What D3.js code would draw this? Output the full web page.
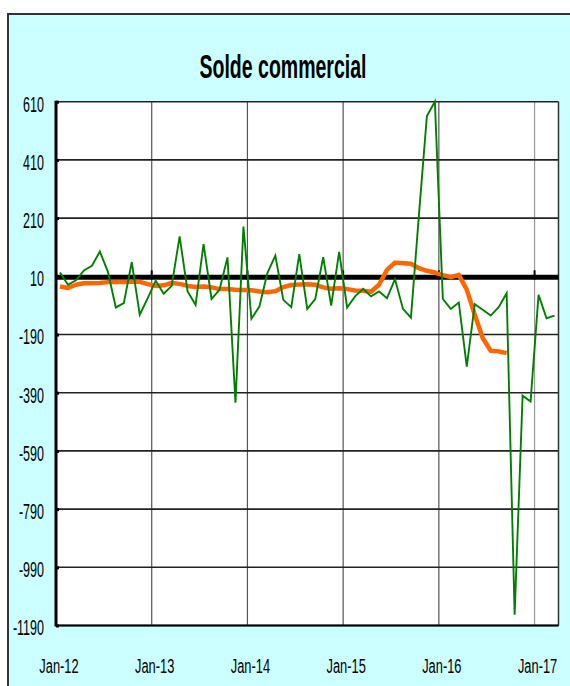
<!DOCTYPE html>
<html>
<head>
<meta charset="utf-8">
<script src="https://cdn.jsdelivr.net/npm/d3@7"></script>
<style>
body{margin:0;background:#fff}
svg{display:block}
</style>
</head>
<body>
<div id="chart"></div>
<script>
var months = d3.timeMonth.range(new Date(2012,0,1), new Date(2017,3,1)).map(d3.timeFormat('%b-%y'))
var tickLabels = ['Jan-12','Jan-13','Jan-14','Jan-15','Jan-16','Jan-17']
var yTicks = [610,410,210,10,-190,-390,-590,-790,-990,-1190]
// monthly balance (green)
var solde = [23,-19,-4,30,46,95,26,-97,-82,59,-122,-65,
             -5,-50,-23,147,-42,-88,121,-68,-36,75,-424,181,
             -136,-94,21,81,-71,-96,86,-102,-68,76,-91,94,
             -97,-59,-33,-59,-42,-65,0,-102,-132,220,561,610,
             -68,-102,-80,-300,-86,-105,-125,-96,-48,-1153,-400,-420,
             -54,-134,-125]
// moving average (orange)
var moyenne = [-25,-30,-19,-14,-14,-13,-10,-10,-10,-9,-9,-17,
               -23,-21,-13,-16,-23,-27,-25,-28,-34,-34,-36,-37,
               -38,-42,-45,-41,-27,-20,-18,-17,-19,-28,-33,-31,
               -34,-39,-40,-43,-19,32,57,55,53,38,29,23,
               14,7,15,-36,-122,-202,-246,-248,-254]

var W = 570, H = 686
var pL = 56, pR = 558.5, pT = 101.7, pB = 625.5

var svg = d3.select('#chart').append('svg')
            .attr('width', W)
            .attr('height', H)

var x = d3.scaleBand().domain(months).range([pL,pR]).padding(0)
var y = d3.scaleLinear().domain([-1190,610]).range([pB,pT])
var cx = m => x(m) + x.bandwidth()/2

// frame
svg.append('rect')
   .attr('x',8).attr('y',14).attr('width',W).attr('height',H)
   .attr('fill','#ccffff').attr('stroke','#333').attr('stroke-width',2)

svg.append('text')
   .attr('x',283).attr('y',78)
   .attr('text-anchor','middle')
   .attr('textLength',167).attr('lengthAdjust','spacingAndGlyphs')
   .style('font-family','"Liberation Sans",Arial,sans-serif')
   .style('font-weight','bold').style('font-size','34px')
   .text('Solde commercial')

// plot area
svg.append('rect')
   .attr('x',pL).attr('y',pT).attr('width',pR-pL).attr('height',pB-pT)
   .attr('fill','#fff')

// vertical grid
tickLabels.slice(1).forEach(t=>{
	svg.append('line')
	   .attr('x1',x(t)).attr('x2',x(t)).attr('y1',pT).attr('y2',pB)
	   .attr('stroke', t==='Jan-17' ? '#9a9a9a' : '#555').attr('stroke-width',1.2)
})

// horizontal grid
yTicks.forEach(v=>{
	svg.append('line')
	   .attr('x1',pL).attr('x2',pR).attr('y1',y(v)).attr('y2',y(v))
	   .attr('stroke','#222').attr('stroke-width',1.6)
})

// borders
svg.append('line').attr('x1',pR).attr('x2',pR).attr('y1',pT).attr('y2',pB)
   .attr('stroke','#333').attr('stroke-width',1.5)
svg.append('line').attr('x1',pL).attr('x2',pR).attr('y1',pB).attr('y2',pB)
   .attr('stroke','#000').attr('stroke-width',2)

// y axis
var yAxis = svg.append('g').attr('transform','translate('+pL+',0)')
               .call(d3.axisLeft(y).tickValues(yTicks).tickSize(-3).tickFormat(d=>String(d)))
yAxis.select('.domain').remove()
yAxis.selectAll('.tick line').attr('stroke','#000').attr('stroke-width',3)
yAxis.selectAll('.tick text')
     .attr('x',null).attr('dy',null).attr('text-anchor','end')
     .attr('transform','translate(-12,9.3) scale(0.57,1)')
     .style('font-family','"Liberation Sans",Arial,sans-serif')
     .style('font-size','22px').attr('fill','#000')
svg.append('line').attr('x1',pL).attr('x2',pL).attr('y1',pT-1).attr('y2',pB+1)
   .attr('stroke','#000').attr('stroke-width',3)

// x axis labels
var xAxis = svg.append('g').attr('transform','translate(0,'+pB+')')
               .call(d3.axisBottom(x).tickValues(tickLabels).tickSize(0))
xAxis.select('.domain').remove()
xAxis.selectAll('.tick text')
     .attr('y',null).attr('dy',null)
     .attr('transform','translate(-1,47.5) scale(0.66,1)')
     .style('font-family','"Liberation Sans",Arial,sans-serif')
     .style('font-size','19.5px').attr('fill','#000')

// axis line at 10
svg.append('line')
   .attr('x1',pL).attr('x2',pR).attr('y1',y(10)+1).attr('y2',y(10)+1)
   .attr('stroke','#000').attr('stroke-width',5)
tickLabels.slice(1).forEach(t=>{
	svg.append('line')
	   .attr('x1',x(t)).attr('x2',x(t)).attr('y1',y(10)-6).attr('y2',y(10)+3)
	   .attr('stroke','#000').attr('stroke-width',2)
})

// series
var line = d3.line().x((d,i)=>cx(months[i])).y(d=>y(d))
svg.append('path').datum(moyenne)
   .attr('d',line)
   .attr('fill','none').attr('stroke','#ff6600').attr('stroke-width',4.5)
   .attr('stroke-linejoin','round')
svg.append('path').datum(solde)
   .attr('d',line)
   .attr('fill','none').attr('stroke','#008000').attr('stroke-width',1.9)
</script>
</body>
</html>
